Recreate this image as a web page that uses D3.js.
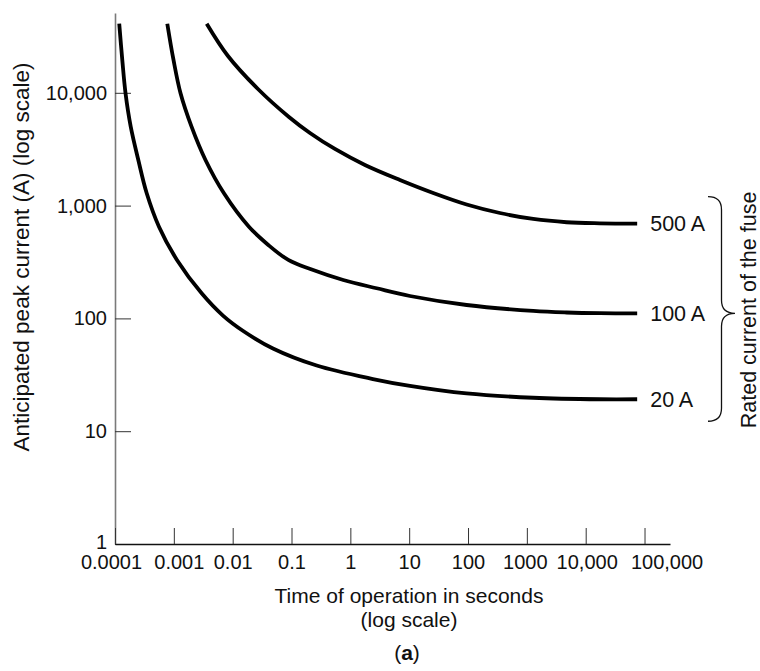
<!DOCTYPE html>
<html>
<head>
<meta charset="utf-8">
<script src="https://cdnjs.cloudflare.com/ajax/libs/d3/7.8.5/d3.min.js"></script>
<style>
  body { margin: 0; background: #fff; }
  svg { display: block; font-family: "Liberation Sans", Arial, Helvetica, sans-serif; }
</style>
</head>
<body>
<svg width="760" height="671"></svg>
<script>
/*
 ***************************
 * Values *
 ***************************
*/

const timeTicks = [0.0001, 0.001, 0.01, 0.1, 1, 10, 100, 1000, 10000, 100000];
const timeTickLabels = ['0.0001', '0.001', '0.01', '0.1', '1', '10', '100', '1000', '10,000', '100,000'];
const currentTicks = [1, 10, 100, 1000, 10000];
const currentTickLabels = ['1', '10', '100', '1,000', '10,000'];

const ratings = ['20 A', '100 A', '500 A'];

// seconds / amperes
const time20 = [0.000118, 0.000133, 0.000151, 0.000185, 0.000249, 0.000346, 0.000559, 0.00113, 0.00297, 0.00684, 0.0151, 0.0484, 0.268, 2.42, 10.3, 94.7, 1282, 17430, 75000];
const current20 = [41000, 19550, 9906, 5010, 2538, 1286, 650, 330, 167, 106, 77.4, 54.1, 38.2, 29.0, 25.2, 21.6, 19.8, 19.2, 19.2];

const time100 = [0.000774, 0.000987, 0.0013, 0.002, 0.00345, 0.00711, 0.0189, 0.0403, 0.0882, 0.209, 0.758, 2.8, 10.3, 94.7, 1282, 4736, 17430, 75000];
const current100 = [41000, 19550, 9906, 5010, 2538, 1286, 650, 448, 330, 274, 219, 185, 158, 131.5, 116.4, 112.8, 111.2, 111.0];

const time500 = [0.00362, 0.00832, 0.0269, 0.0905, 0.206, 0.547, 1.77, 6.96, 25.6, 94.7, 348, 1282, 4736, 17430, 75000];
const current500 = [41000, 21210, 10810, 6107, 4405, 3177, 2292, 1687, 1294, 1023, 860, 761, 712, 697, 692];

/*
 ***************************
 * Scales and axes         *
 ***************************
*/

const $svg = d3.select('svg');

const x = d3.scaleLog().domain([1e-4, 271000]).range([115, 670]);
const y = d3.scaleLog().domain([1, 51000]).range([544, 13]);

// the typesetter pushed a few crowded labels sideways
const labelShift = [-4, 5, 0, 0, 0, 0, 0, -2, 1, 22];

const $yAxis = $svg.append('g')
  .attr('transform', 'translate(115,0)')
  .call(d3.axisLeft(y)
    .tickValues(currentTicks)
    .tickFormat((d, i) => currentTickLabels[i])
    .tickSize(-16)
    .tickSizeOuter(0)
    .tickPadding(8));
$yAxis.select('.domain').attr('stroke', '#7a7a7a').attr('stroke-width', 1.6);
$yAxis.selectAll('.tick line').attr('stroke', '#333').attr('stroke-width', 1);
$yAxis.selectAll('.tick text')
  .attr('font-size', 20)
  .attr('font-family', null)
  .attr('fill', '#111')
  .attr('dy', (d, i) => i === 0 ? '0.22em' : '0.32em');

const $xAxis = $svg.append('g')
  .attr('transform', 'translate(0,544)')
  .call(d3.axisBottom(x)
    .tickValues(timeTicks)
    .tickFormat((d, i) => timeTickLabels[i])
    .tickSize(-16)
    .tickSizeOuter(0)
    .tickPadding(11));
$xAxis.select('.domain').attr('stroke', '#111').attr('stroke-width', 1.3);
$xAxis.selectAll('.tick line').attr('stroke', '#333').attr('stroke-width', 1);
$xAxis.selectAll('.tick text')
  .attr('font-size', 20)
  .attr('font-family', null)
  .attr('fill', '#111')
  .attr('dx', (d, i) => labelShift[i]);
$svg.selectAll('.domain').attr('fill', 'none');

/*
 ***************************
 * Fuse curves             *
 ***************************
*/

const series = [
  {name: ratings[0], t: time20, i: current20},
  {name: ratings[1], t: time100, i: current100},
  {name: ratings[2], t: time500, i: current500}
];

const line = d3.line()
  .x(d => x(d[0]))
  .y(d => y(d[1]))
  .curve(d3.curveCatmullRom.alpha(0.5));

series.forEach(function(s) {
  const pts = d3.zip(s.t, s.i);
  $svg.append('path')
    .datum(pts)
    .attr('d', line)
    .attr('fill', 'none')
    .attr('stroke', '#000')
    .attr('stroke-width', 3.8);

  const last = pts[pts.length - 1];
  $svg.append('text')
    .attr('x', x(last[0]) + 13)
    .attr('y', y(last[1]))
    .attr('dy', '0.35em')
    .attr('font-size', 21.5)
    .attr('fill', '#111')
    .text(s.name);
});

// brace grouping the three ratings
const yTop = y(current500[current500.length - 1]) - 27;
const yMid = y(current100[current100.length - 1]);
const yBot = y(current20[current20.length - 1]) + 22;
const bx = 721.5, bl = 708, br = 735, r = 13;

$svg.append('path')
  .attr('d', `M${bl},${yTop} Q${bx},${yTop} ${bx},${yTop + r} L${bx},${yMid - r} Q${bx},${yMid} ${br},${yMid} ` +
             `Q${bx},${yMid} ${bx},${yMid + r} L${bx},${yBot - r} Q${bx},${yBot} ${bl},${yBot}`)
  .attr('fill', 'none')
  .attr('stroke', '#111')
  .attr('stroke-width', 1.3);

$svg.append('text')
  .attr('transform', `translate(756,${(yTop + yBot) / 2 + 1}) rotate(-90)`)
  .attr('text-anchor', 'middle')
  .attr('font-size', 21.5)
  .attr('fill', '#111')
  .text('Rated current of the fuse');

/*
 ***************************
 * Axis titles             *
 ***************************
*/

$svg.append('text')
  .attr('transform', 'translate(29,257) rotate(-90)')
  .attr('text-anchor', 'middle')
  .attr('font-size', 22.5)
  .attr('fill', '#111')
  .text('Anticipated peak current (A) (log scale)');

$svg.append('text')
  .attr('x', 409).attr('y', 603)
  .attr('text-anchor', 'middle')
  .attr('font-size', 21)
  .attr('fill', '#111')
  .text('Time of operation in seconds');

$svg.append('text')
  .attr('x', 409).attr('y', 627)
  .attr('text-anchor', 'middle')
  .attr('font-size', 21)
  .attr('fill', '#111')
  .text('(log scale)');

const $cap = $svg.append('text')
  .attr('x', 407).attr('y', 660)
  .attr('text-anchor', 'middle')
  .attr('font-size', 21)
  .attr('fill', '#111');
$cap.append('tspan').text('(');
$cap.append('tspan').attr('font-weight', 'bold').text('a');
$cap.append('tspan').text(')');
</script>
</body>
</html>
